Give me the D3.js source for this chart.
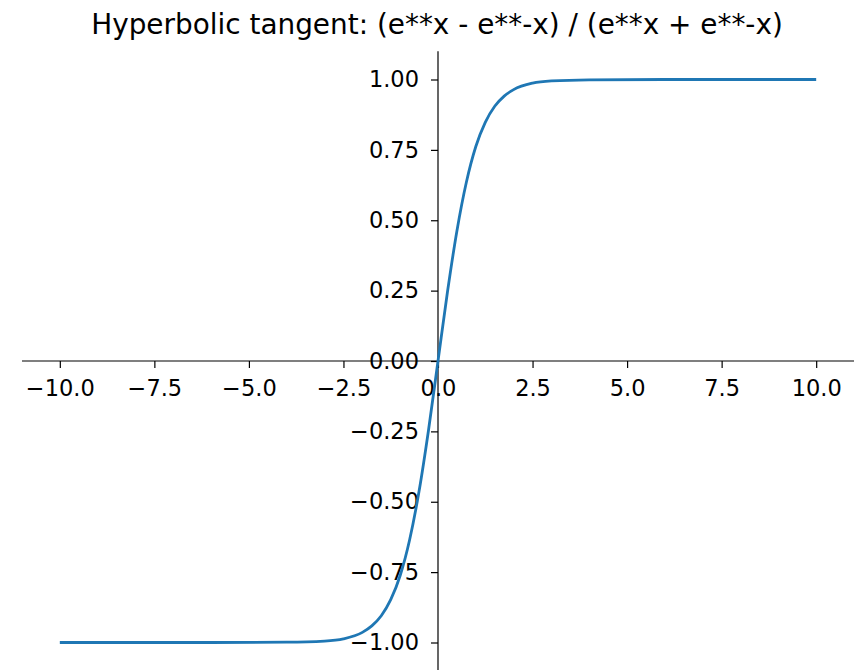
<!DOCTYPE html>
<html>
<head>
<meta charset="utf-8">
<script src="https://cdn.jsdelivr.net/npm/d3@7"></script>
<style>
  body { margin: 0; padding: 0; background: #fff; }
  text { font-family: "DejaVu Sans", sans-serif; fill: #000; }
</style>
</head>
<body>
<script>
// values
var xs = [-10, -8, -6, -4, -3, -2.5, -2, -1.75, -1.5, -1.25, -1, -0.75, -0.5, -0.25, 0,
          0.25, 0.5, 0.75, 1, 1.25, 1.5, 1.75, 2, 2.5, 3, 4, 6, 8, 10];
var ys = [-1.00, -1.00, -1.00, -0.999, -0.995, -0.987, -0.964, -0.941, -0.905, -0.848, -0.762, -0.635, -0.462, -0.245, 0,
          0.245, 0.462, 0.635, 0.762, 0.848, 0.905, 0.941, 0.964, 0.987, 0.995, 0.999, 1.00, 1.00, 1.00];
var xTicks = [-10, -7.5, -5, -2.5, 0, 2.5, 5, 7.5, 10];
var yTicks = [-1, -0.75, -0.5, -0.25, 0, 0.25, 0.5, 0.75, 1];
var title = "Hyperbolic tangent: (e**x - e**-x) / (e**x + e**-x)";

var width = 857, height = 670;

var svg = d3.select("body").append("svg")
    .attr("width", width)
    .attr("height", height);

var x = d3.scaleLinear().domain([-11, 11]).range([22, 854]);
var y = d3.scaleLinear().domain([-1, 1]).range([642.5, 79.5]);

var fmt = function(d) { return d3.format(".1f")(d).replace("-", "\u2212"); };
var fmtY = function(d) { return d3.format(".2f")(d).replace("-", "\u2212"); };

// x axis through y = 0
var gx = svg.append("g")
    .attr("transform", "translate(0," + y(0) + ")")
    .call(d3.axisBottom(x).tickValues(xTicks).tickFormat(fmt).tickSize(7).tickPadding(12));
gx.select(".domain").attr("d", "M" + x(-11) + ",0H" + x(11));

// y axis through x = 0
var gy = svg.append("g")
    .attr("transform", "translate(" + x(0) + ",0)")
    .call(d3.axisLeft(y).tickValues(yTicks).tickFormat(fmtY).tickSize(7).tickPadding(12));
gy.select(".domain").attr("d", "M0," + y(1.1) + "V" + y(-1.1));

svg.selectAll(".domain").attr("stroke", "#000").attr("stroke-width", 1.2);
svg.selectAll(".tick line").attr("stroke", "#000").attr("stroke-width", 1.2);
svg.selectAll(".tick text").style("font-size", "22.5px").style("font-family", "DejaVu Sans");

var line = d3.line()
    .x(function(d, i) { return x(xs[i]); })
    .y(function(d, i) { return y(ys[i]); })
    .curve(d3.curveMonotoneX);

svg.append("path")
    .datum(xs)
    .attr("d", line)
    .attr("fill", "none")
    .attr("stroke", "#1f77b4")
    .attr("stroke-width", 2.8);

svg.append("text")
    .attr("x", 437)
    .attr("y", 34)
    .attr("text-anchor", "middle")
    .style("font-size", "27.9px")
    .text(title);
</script>
</body>
</html>
